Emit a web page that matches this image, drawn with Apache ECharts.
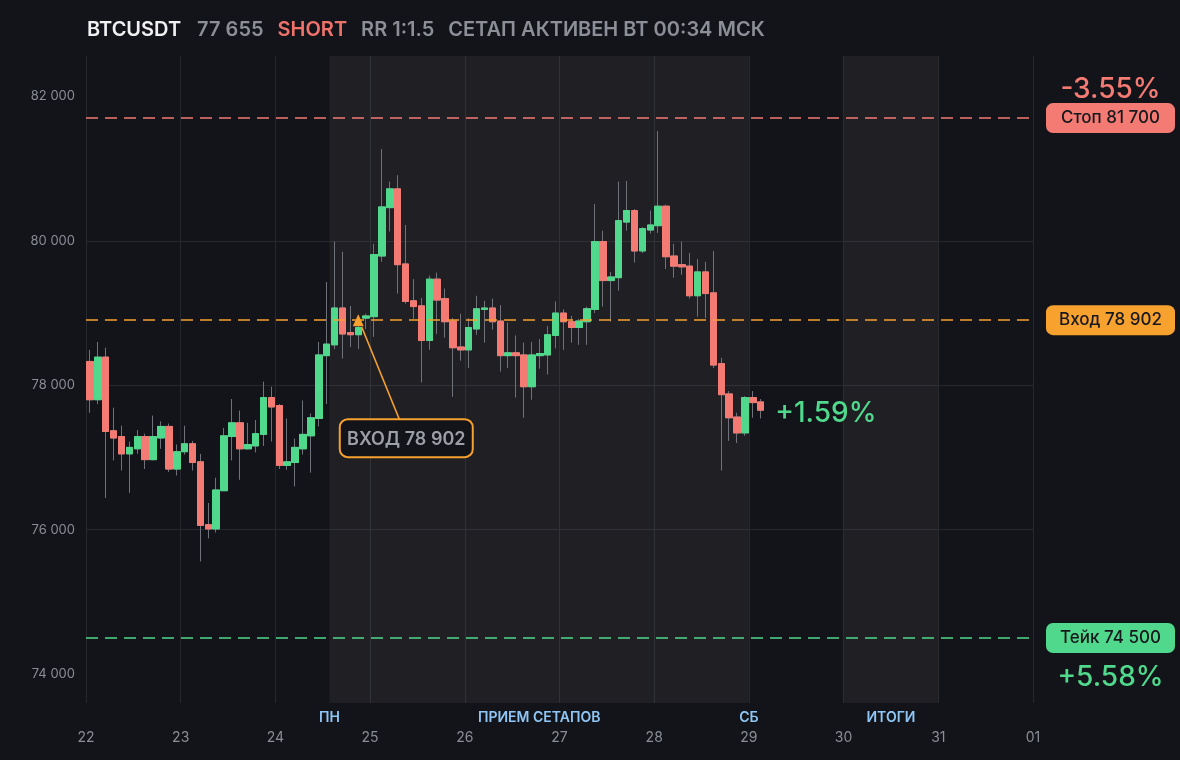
<!DOCTYPE html>
<html>
<head>
<meta charset="utf-8">
<script src="https://cdn.jsdelivr.net/npm/echarts@6/dist/echarts.min.js"></script>
<style>
html,body{margin:0;padding:0;background:#131419;}
#c{width:1180px;height:760px;}
</style>
</head>
<body>
<div id="c"></div>
<script>
// ---------- DATA ----------
const symbolName = 'BTCUSDT';
const lastPriceText = '77 655';
const sideText = 'SHORT';
const rrText = 'RR 1:1.5';
const statusText = 'СЕТАП АКТИВЕН ВТ 00:34 МСК';

const dayLabels = ['22','23','24','25','26','27','28','29','30','31','01'];
const dayTickHours = [0,24,48,72,96,120,144,168,192,216,240];
const yTicks = [74000, 76000, 78000, 80000, 82000];

const sessionBands = [[61.7, 168], [192, 216]];
const bandLabelPos = [61.7, 114.85, 168, 204];
const bandLabels = ['ПН', 'ПРИЕМ СЕТАПОВ', 'СБ', 'ИТОГИ'];

// candle centre times, hours since the 22nd 00:00 (2h candles)
const candleHours = [1,3,5,7,9,11,13,15,17,19,21,23,25,27,29,31,33,35,37,39,41,43,45,47,49,51,53,55,57,59,
  61,63,65,67,69,71,73,75,77,79,81,83,85,87,89,91,93,95,97,99,101,103,105,107,109,111,113,115,117,119,
  121,123,125,127,129,131,133,135,137,139,141,143,145,147,149,151,153,155,157,159,161,163,165,167,169,171];
const opens = [78330,77800,78390,77370,77290,77050,77120,77290,76970,77270,77430,76840,77080,77190,76940,76070,76010,76540,77290,77480,
  77120,77160,77320,77830,77720,76890,76930,77120,77300,77540,78410,78560,79070,78730,78700,78930,78950,79790,80460,80720,
  79680,79170,79100,78620,79470,79200,78890,78530,78490,78780,79050,79070,78890,78410,78450,78420,77980,78410,78420,78690,
  79000,78880,78800,78880,79050,79990,79450,79490,80260,80420,79860,80150,80210,80480,79790,79670,79650,79240,79570,79280,
  78300,77880,77560,77340,77830,77770];
const closes = [77800,78390,77360,77270,77050,77140,77290,76970,77290,77430,76840,77080,77190,76930,76060,76010,76550,77300,77480,77120,
  77180,77330,77830,77700,76890,76940,77140,77320,77550,78420,78570,79070,78710,78700,78800,78960,79810,80470,80720,79670,
  79160,79090,78620,79470,79180,78880,78520,78490,78800,79060,79070,78880,78410,78450,78410,77980,78420,78440,78700,79000,
  78880,78800,78890,79060,79990,79450,79500,80280,80420,79860,80170,80220,80480,79780,79650,79640,79240,79570,79270,78280,
  77870,77550,77340,77830,77760,77655];
const lows = [77620,77740,76440,76960,76820,76510,77050,76840,76960,77120,76800,76750,77040,76820,75560,75880,75960,76540,76960,76690,
  77110,77070,77160,77220,76840,76830,76600,77040,76790,77430,77740,78500,78370,78530,78500,78780,78670,79710,80130,79270,
  79130,78920,78040,78490,78710,78660,77840,78340,78240,78700,78590,78770,78190,78240,77830,77550,77800,78230,78150,78510,
  78490,78590,78560,78560,79000,79090,78880,79310,80140,79700,79830,80100,80110,79610,79490,79530,79200,78950,78930,78240,
  76820,77230,77200,77300,77550,77540];
const highs = [78490,78600,78520,77690,77440,77220,77380,77330,77580,77500,77470,77180,77440,77230,77050,76370,76720,77410,77810,77650,
  77480,77520,78050,77980,77740,77540,77260,77790,77610,78600,79430,79990,79850,79100,78880,78990,79960,81270,80820,80910,
  80220,79470,79210,79520,79560,79340,78930,78990,78930,79240,79170,79200,79110,78870,78690,78590,78600,78640,78820,79160,
  79050,78960,78920,79090,80510,80140,79570,80820,80830,80440,80190,80420,81520,80500,79960,79990,79830,79750,79710,79860,
  78380,77920,77620,77850,77920,77810];

const stopPrice = 81700;
const entryPrice = 78902;
const takePrice = 74500;
const lastPrice = 77655;
const entryIndex = 34;
const pnlStop = '-3.55%';
const pnlNow = '+1.59%';
const pnlTake = '+5.58%';

// ---------- STYLE ----------
const BG = '#131419';
const GRID = '#26282e';
const GREEN = '#50d98c';
const RED = '#f37b73';
const ORANGE = '#f7a12f';
const WICK = '#6f727a';
const AXIS_TXT = '#8b8e96';
const BLUE = '#8fc6f6';
const FONT = 'Inter';

const fmt = v => String(Math.round(v)).replace(/\B(?=(\d{3})+(?!\d))/g, ' ');

const wickData = candleHours.map((h, i) => [h, opens[i], closes[i], lows[i], highs[i]]);
const bodyData = candleHours.map((h, i) => [h, opens[i], closes[i], Math.min(opens[i], closes[i]), Math.max(opens[i], closes[i])]);

function badge(color) {
  return {backgroundColor: color, color: '#17181d', fontSize: 17, fontWeight: 500, fontFamily: FONT,
          borderRadius: 7, width: 129, height: 30, lineHeight: 30, align: 'center'};
}

const chart = echarts.init(document.getElementById('c'), null, {renderer: 'canvas'});

const option = {
  backgroundColor: BG,
  animation: false,
  title: {
    left: 87, top: 20, padding: 0,
    text: '{w|' + symbolName + '}{g|' + lastPriceText + '}{r|' + sideText + '}{g|' + rrText + '}{e|' + statusText + '}',
    textStyle: {
      rich: {
        w: {color: '#f1f1f3', fontSize: 20, fontWeight: 600, fontFamily: FONT, padding: [0, 16, 0, 0]},
        g: {color: '#8c8f97', fontSize: 20, fontWeight: 600, fontFamily: FONT, padding: [0, 14, 0, 0]},
        r: {color: '#f0736b', fontSize: 20, fontWeight: 600, fontFamily: FONT, padding: [0, 14, 0, 0]},
        e: {color: '#8c8f97', fontSize: 20, fontWeight: 600, fontFamily: FONT}
      }
    }
  },
  grid: {left: 86, right: 147, top: 56, bottom: 57},
  xAxis: [
    {
      type: 'value', min: 0, max: 240, interval: 24,
      axisLine: {show: false}, axisTick: {show: false},
      splitLine: {show: true, lineStyle: {color: GRID, width: 1}},
      axisLabel: {
        color: AXIS_TXT, fontSize: 14, fontFamily: FONT, margin: 28,
        showMinLabel: true, showMaxLabel: true,
        formatter: v => dayLabels[dayTickHours.indexOf(Math.round(v))]
      }
    },
    {
      type: 'value', min: 0, max: 240, position: 'bottom', offset: 0,
      axisLine: {show: false}, axisTick: {show: false}, splitLine: {show: false},
      axisLabel: {
        customValues: bandLabelPos,
        color: BLUE, fontSize: 14, fontWeight: 600, fontFamily: FONT, margin: 8,
        formatter: v => {
          let best = 0;
          bandLabelPos.forEach((p, i) => { if (Math.abs(p - v) < Math.abs(bandLabelPos[best] - v)) best = i; });
          return bandLabels[best];
        }
      }
    }
  ],
  yAxis: {
    type: 'value', min: 73600, max: 82560,
    axisLine: {show: false},
    axisTick: {show: false, customValues: yTicks},
    splitLine: {show: true, showMinLine: false, showMaxLine: false, lineStyle: {color: GRID, width: 1}},
    axisLabel: {customValues: yTicks, color: AXIS_TXT, fontSize: 13, fontFamily: FONT, margin: 11,
                padding: [4, 0, 0, 0], formatter: v => fmt(v)}
  },
  series: [
    {
      name: 'wick', type: 'candlestick', xAxisIndex: 0,
      data: wickData, encode: {x: 0, y: [1, 2, 3, 4]},
      barWidth: 7,
      itemStyle: {color: GREEN, color0: RED, borderColor: WICK, borderColor0: WICK, borderColorDoji: WICK, borderWidth: 1},
      markArea: {
        silent: true,
        itemStyle: {color: 'rgba(255,255,255,0.05)'},
        data: sessionBands.map(b => [{xAxis: b[0]}, {xAxis: b[1]}])
      }
    },
    {
      name: 'body', type: 'candlestick', xAxisIndex: 0,
      data: bodyData, encode: {x: 0, y: [1, 2, 3, 4]},
      barWidth: 7,
      itemStyle: {color: GREEN, color0: RED, borderColor: GREEN, borderColor0: RED, borderWidth: 1},
      markLine: {
        silent: true, symbol: ['none', 'none'],
        lineStyle: {type: [12, 7], width: 1.6},
        label: {show: true, position: 'end', distance: 13},
        data: [
          {yAxis: stopPrice, lineStyle: {color: RED}, label: {formatter: '{b|Стоп ' + fmt(stopPrice) + '}', rich: {b: badge(RED)}}},
          {yAxis: entryPrice, lineStyle: {color: ORANGE}, label: {formatter: '{b|Вход ' + fmt(entryPrice) + '}', rich: {b: badge(ORANGE)}}},
          {yAxis: takePrice, lineStyle: {color: GREEN}, label: {formatter: '{b|Тейк ' + fmt(takePrice) + '}', rich: {b: badge(GREEN)}}}
        ]
      },
      markPoint: {
        silent: true,
        data: [
          {coord: [candleHours[entryIndex], entryPrice], symbol: 'triangle', symbolSize: [11, 12],
           itemStyle: {color: ORANGE}, label: {show: false}},
          {coord: [candleHours[candleHours.length - 1], lastPrice], symbol: 'circle', symbolSize: 1,
           itemStyle: {color: 'rgba(0,0,0,0)'},
           label: {show: true, position: 'right', distance: 14, offset: [0, 3], formatter: pnlNow, color: GREEN,
                   fontSize: 28, fontWeight: 500, fontFamily: FONT}}
        ]
      }
    }
  ]
};

chart.setOption(option);

const stopPx = chart.convertToPixel({gridIndex: 0}, [0, stopPrice]);
const takePx = chart.convertToPixel({gridIndex: 0}, [0, takePrice]);
const rightPx = chart.convertToPixel({gridIndex: 0}, [240, stopPrice])[0];
const badgeCx = rightPx + 13 + 64.5;
const tri = chart.convertToPixel({gridIndex: 0}, [candleHours[entryIndex], entryPrice]);
const boxL = tri[0] - 18.5, boxT = tri[1] + 99, boxW = 133, boxH = 38;

chart.setOption({
  graphic: [
    {type: 'text', z: 10, x: badgeCx, y: stopPx[1] - 29,
     style: {text: pnlStop, fill: RED, font: '500 28px Inter', textAlign: 'center', textVerticalAlign: 'middle'}},
    {type: 'text', z: 10, x: badgeCx, y: takePx[1] + 40,
     style: {text: pnlTake, fill: GREEN, font: '500 28px Inter', textAlign: 'center', textVerticalAlign: 'middle'}},
    {type: 'line', z: 10, shape: {x1: tri[0] + 3.5, y1: tri[1] + 7, x2: tri[0] + 41, y2: boxT},
     style: {stroke: ORANGE, lineWidth: 1.5}},
    {type: 'rect', z: 10, shape: {x: boxL, y: boxT, width: boxW, height: boxH, r: 8},
     style: {fill: BG, stroke: ORANGE, lineWidth: 2}},
    {type: 'text', z: 11, x: boxL + boxW / 2, y: boxT + boxH / 2 + 1,
     style: {text: 'ВХОД ' + fmt(entryPrice), fill: '#9d9fa7', font: '600 18px Inter', textAlign: 'center', textVerticalAlign: 'middle'}}
  ]
});
</script>
</body>
</html>
